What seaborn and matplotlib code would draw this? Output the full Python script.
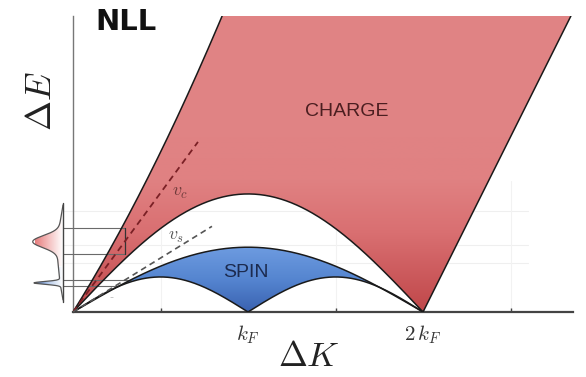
import numpy as np
import pandas as pd
import matplotlib
matplotlib.use("Agg")
import matplotlib.pyplot as plt
from matplotlib.patches import Polygon
from matplotlib.colors import LinearSegmentedColormap
import seaborn as sns

# ---- data (momentum in units of k_F, energy in matching units) ----
k_ticks = [0.5, 1.0, 1.5, 2.0, 2.5]
k_tick_labels = ["", r"$k_F$", "", r"$2\,k_F$", ""]
k_max = 2.857
e_max = 1.69

# charge continuum edges
charge_upper_lin = 1.60      # slope of the upper edge at the origin
charge_upper_quad = 0.45     # curvature of the upper edge
charge_lower_peak = 0.674    # top of the lower arc at k_F
charge_right_slope = 2.0     # edge rising from 2 k_F

# spin continuum edges
spin_upper_peak = 0.37
spin_lower_peak = 0.20

# velocity guides: slope, end momentum, label position
v_c_guide = (1.36, 0.714)
v_s_guide = (0.616, 0.794)
v_c_label = (0.611, 0.686)
v_s_label = (0.589, 0.434)

# spectral profile on the energy axis
profile_axis_k = -0.057
profile_e_range = (0.069, 0.611)
profile_base = 0.03
red_peak = (0.402, 0.034, 0.145)    # centre, width, height
blue_peak = (0.166, 0.008, 0.150)

# level lines from the profile into the continua
charge_levels = [0.480, 0.331]
charge_level_end = 0.297
spin_levels = [0.183, 0.149]
grid_levels = [0.577, 0.383, 0.280]

# ---- figure ----
sns.set_theme(style="white")
plt.rcParams["mathtext.fontset"] = "cm"

W, H = 586, 377
fig = plt.figure(figsize=(W / 100, H / 100), dpi=100)
ax_left, ax_bottom = 73 / W, (H - 312) / H
ax_w, ax_h = 500 / W, 296 / H
ax = fig.add_axes([ax_left, ax_bottom, ax_w, ax_h])
ax.set_xlim(0, k_max)
ax.set_ylim(0, e_max)

k = np.linspace(0, 2, 400)

# edge curves
def charge_upper(x):
    return charge_upper_lin * x + charge_upper_quad * x ** 2

k_top = (-charge_upper_lin + np.sqrt(charge_upper_lin ** 2 + 4 * charge_upper_quad * e_max)) / (2 * charge_upper_quad)
k_up = np.linspace(0, k_top, 200)
e_up = charge_upper(k_up)
e_charge_low = charge_lower_peak * np.sin(np.pi * k / 2)
k_right_top = 2 + e_max / charge_right_slope

e_spin_up = spin_upper_peak * np.sin(np.pi * k / 2)
e_spin_low = spin_lower_peak * np.abs(np.sin(np.pi * k))

# faint background grid
for lv in grid_levels:
    ax.plot([profile_axis_k, 2.6], [lv, lv], color="#efefef", lw=0.8, zorder=0, clip_on=False)
for kt in [0.5, 1.5, 2.5]:
    ax.plot([kt, kt], [0, 0.75], color="#f2f2f2", lw=0.8, zorder=0)

# charge region with vertical gradient
charge_poly = np.vstack([
    np.column_stack([k_up, e_up]),
    [[k_right_top, e_max], [2.0, 0.0]],
    np.column_stack([k[::-1], e_charge_low[::-1]]),
])
red_cmap = LinearSegmentedColormap.from_list(
    "charge", [(0.0, "#c0474a"), (0.45, "#d96f71"), (0.75, "#e08182"), (1.0, "#e08384")])
patch_c = Polygon(charge_poly, closed=True, facecolor="none", edgecolor="none")
ax.add_patch(patch_c)
grad = np.linspace(0, 1, 256).reshape(-1, 1)
im = ax.imshow(grad, extent=[0, k_max, 0, 1.0], origin="lower", aspect="auto",
               cmap=red_cmap, zorder=1)
im.set_clip_path(patch_c)
im2 = ax.imshow(np.ones((2, 1)), extent=[0, k_max, 1.0, e_max], origin="lower",
                aspect="auto", cmap=red_cmap, vmin=0, vmax=1, zorder=1)
im2.set_clip_path(patch_c)

# spin region with vertical gradient
spin_poly = np.vstack([np.column_stack([k, e_spin_up]),
                       np.column_stack([k[::-1], e_spin_low[::-1]])])
blue_cmap = LinearSegmentedColormap.from_list(
    "spin", [(0.0, "#3a62b0"), (0.5, "#5585d0"), (1.0, "#6d9be0")])
patch_s = Polygon(spin_poly, closed=True, facecolor="none", edgecolor="none")
ax.add_patch(patch_s)
im3 = ax.imshow(grad, extent=[0, k_max, 0, spin_upper_peak], origin="lower",
                aspect="auto", cmap=blue_cmap, zorder=1)
im3.set_clip_path(patch_s)

# boundaries drawn with seaborn
edges = pd.concat([
    pd.DataFrame({"k": k_up, "E": e_up, "edge": "charge upper"}),
    pd.DataFrame({"k": [2.0, k_right_top], "E": [0.0, e_max], "edge": "charge right"}),
    pd.DataFrame({"k": k, "E": e_charge_low, "edge": "charge lower"}),
    pd.DataFrame({"k": k, "E": e_spin_up, "edge": "spin upper"}),
    pd.DataFrame({"k": k, "E": e_spin_low, "edge": "spin lower"}),
])
for name, grp in edges.groupby("edge", sort=False):
    sns.lineplot(data=grp, x="k", y="E", ax=ax, color="#1a1a1a", lw=1.1,
                 sort=False, estimator=None, zorder=4)

# velocity guides
ax.plot([0, v_c_guide[1]], [0, v_c_guide[0] * v_c_guide[1]], ls=(0, (3.5, 2.5)),
        color="#7a2025", lw=1.3, zorder=5)
ax.plot([0, v_s_guide[1]], [0, v_s_guide[0] * v_s_guide[1]], ls=(0, (3.5, 2.5)),
        color="#555555", lw=1.2, zorder=5)
ax.text(*v_c_label, r"$v_c$", color="#6e3a3a", fontsize=13, ha="center", va="center", zorder=6)
ax.text(*v_s_label, r"$v_s$", color="#555555", fontsize=13, ha="center", va="center", zorder=6)

# level lines from the profile
for lv in charge_levels:
    ax.plot([profile_axis_k, charge_level_end], [lv, lv], color="#6a6a6a", lw=0.8,
            zorder=3, clip_on=False)
ax.plot([charge_level_end, charge_level_end], charge_levels, color="#333333", lw=0.9, zorder=3)
for lv in spin_levels:
    k_end = 2 / np.pi * np.arcsin(lv / spin_upper_peak)
    ax.plot([profile_axis_k, k_end], [lv, lv], color="#6a6a6a", lw=0.8, zorder=3, clip_on=False)

# region labels
ax.text(1.565, (312 - 112) / 175, "CHARGE", fontsize=14, color="#4b1e20",
        family="Liberation Sans", ha="center", va="center", zorder=6)
ax.text(0.989, (312 - 273) / 175, "SPIN", fontsize=14, color="#1c2b4f",
        family="Liberation Sans", ha="center", va="center", zorder=6)
ax.text(0.22, 0.085, "-", fontsize=8, color="#bbbbbb", ha="center", va="center")

# axes styling
for s in ["top", "right"]:
    ax.spines[s].set_visible(False)
ax.spines["bottom"].set_color("#444444")
ax.spines["bottom"].set_linewidth(1.6)
ax.spines["left"].set_color("#777777")
ax.spines["left"].set_linewidth(1.0)
ax.set_xticks(k_ticks)
ax.set_xticklabels(k_tick_labels)
ax.set_yticks([])
ax.tick_params(axis="x", direction="in", length=3, width=1, color="#444444",
               labelsize=15, pad=8, labelcolor="#333333", bottom=True)
ax.set_xlabel("")
ax.set_ylabel("")

# spectral profile beside the energy axis
ax_p = fig.add_axes([20 / W, ax_bottom, 53 / W, ax_h], sharey=ax)
ax_p.set_xlim(-53 / 175, 0)
ax_p.axis("off")
e_p = np.linspace(*profile_e_range, 500)
taper = np.sin(np.pi * (e_p - profile_e_range[0]) / (profile_e_range[1] - profile_e_range[0]))
amp = (profile_base * taper
       + red_peak[2] * np.exp(-0.5 * ((e_p - red_peak[0]) / red_peak[1]) ** 2)
       + blue_peak[2] * np.exp(-0.5 * ((e_p - blue_peak[0]) / blue_peak[1]) ** 2))
x_p = profile_axis_k - amp

for lo, hi, cols in [(0.26, profile_e_range[1], ["#e67d7d", "#f4c0c0", "#ffffff"]),
                     (profile_e_range[0], 0.26, ["#4a78c8", "#b9cdec", "#ffffff"])]:
    m = (e_p >= lo) & (e_p <= hi)
    poly = np.vstack([np.column_stack([x_p[m], e_p[m]]),
                      [[profile_axis_k, e_p[m][-1]], [profile_axis_k, e_p[m][0]]]])
    pp = Polygon(poly, closed=True, facecolor="none", edgecolor="none")
    ax_p.add_patch(pp)
    cm_ = LinearSegmentedColormap.from_list("p", cols)
    gi = ax_p.imshow(np.linspace(0, 1, 128).reshape(1, -1),
                     extent=[profile_axis_k - 0.16, profile_axis_k, lo, hi],
                     origin="lower", aspect="auto", cmap=cm_, zorder=1)
    gi.set_clip_path(pp)
ax_p.plot(x_p, e_p, color="#555555", lw=0.9, zorder=3)
ax_p.plot([profile_axis_k, profile_axis_k], [profile_e_range[0] - 0.01, profile_e_range[1] + 0.01],
          color="#444444", lw=1.0, zorder=3)
ax_p.set_xlim(-53 / 175, 0)
ax.set_ylim(0, e_max)

# titles and axis labels
fig.text(95 / W, 1 - 22 / H, "NLL", fontsize=21, fontweight="bold", color="#111111",
         ha="left", va="center", family="DejaVu Sans")
fig.text(41 / W, 1 - 101 / H, r"$\Delta E$", fontsize=26, rotation=90,
         ha="center", va="center", color="#222222")
fig.text(309 / W, 1 - 356 / H, r"$\Delta K$", fontsize=25, ha="center", va="center",
         color="#222222")

fig.savefig("out.png", dpi=100)
